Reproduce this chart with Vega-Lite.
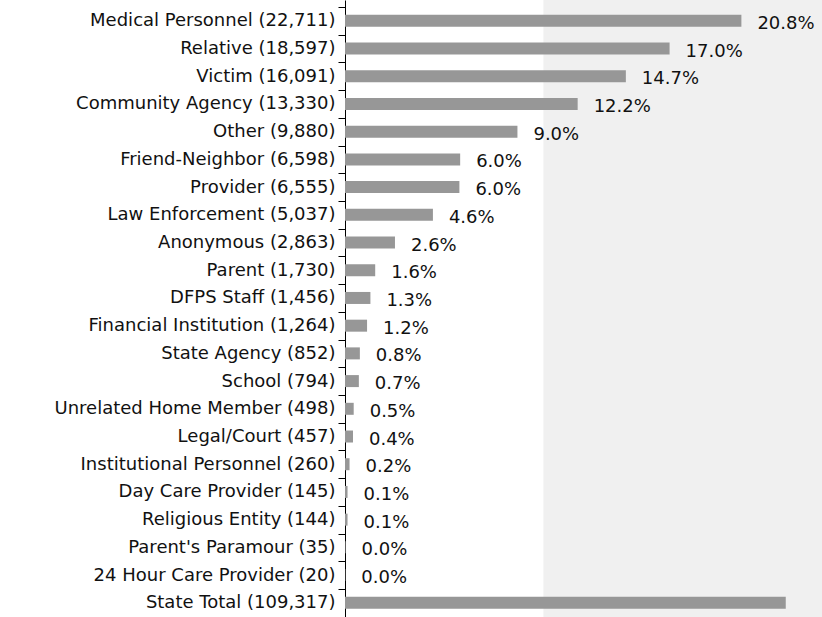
{
  "$schema": "https://vega.github.io/schema/vega-lite/v6.json",
  "width": 477,
  "height": 617,
  "autosize": {"type": "none"},
  "padding": {"left": 345, "top": 0, "right": 0, "bottom": 0},
  "background": "white",
  "config": {
    "view": {"stroke": null},
    "font": "DejaVu Sans",
    "axis": {
      "title": null,
      "domainColor": "#000000",
      "tickColor": "#000000",
      "labelColor": "#111111",
      "labelFont": "DejaVu Sans",
      "labelFontSize": 18,
      "labelLimit": 500,
      "tickSize": 7,
      "tickWidth": 1,
      "labelPadding": 3
    }
  },
  "data": {
    "values": [
      {"label": "Medical Personnel (22,711)", "value": 20.775, "pctText": "20.8%"},
      {"label": "Relative (18,597)", "value": 17.012, "pctText": "17.0%"},
      {"label": "Victim (16,091)", "value": 14.720, "pctText": "14.7%"},
      {"label": "Community Agency (13,330)", "value": 12.194, "pctText": "12.2%"},
      {"label": "Other (9,880)", "value": 9.038, "pctText": "9.0%"},
      {"label": "Friend-Neighbor (6,598)", "value": 6.036, "pctText": "6.0%"},
      {"label": "Provider (6,555)", "value": 5.996, "pctText": "6.0%"},
      {"label": "Law Enforcement (5,037)", "value": 4.608, "pctText": "4.6%"},
      {"label": "Anonymous (2,863)", "value": 2.619, "pctText": "2.6%"},
      {"label": "Parent (1,730)", "value": 1.583, "pctText": "1.6%"},
      {"label": "DFPS Staff (1,456)", "value": 1.332, "pctText": "1.3%"},
      {"label": "Financial Institution (1,264)", "value": 1.156, "pctText": "1.2%"},
      {"label": "State Agency (852)", "value": 0.779, "pctText": "0.8%"},
      {"label": "School (794)", "value": 0.726, "pctText": "0.7%"},
      {"label": "Unrelated Home Member (498)", "value": 0.456, "pctText": "0.5%"},
      {"label": "Legal/Court (457)", "value": 0.418, "pctText": "0.4%"},
      {"label": "Institutional Personnel (260)", "value": 0.238, "pctText": "0.2%"},
      {"label": "Day Care Provider (145)", "value": 0.133, "pctText": "0.1%"},
      {"label": "Religious Entity (144)", "value": 0.132, "pctText": "0.1%"},
      {"label": "Parent's Paramour (35)", "value": 0.032, "pctText": "0.0%"},
      {"label": "24 Hour Care Provider (20)", "value": 0.018, "pctText": "0.0%"},
      {"label": "State Total (109,317)", "value": 23.1, "pctText": null}
    ]
  },
  "layer": [
    {
      "data": {"values": [{}]},
      "mark": {"type": "rect", "color": "#f0f0f0"},
      "encoding": {
        "x": {"datum": 10.4, "type": "quantitative", "scale": {"domain": [0, 25], "nice": false}, "axis": null},
        "x2": {"datum": 25}
      }
    },
    {
      "mark": {"type": "bar", "color": "#979797", "size": 12},
      "encoding": {
        "y": {
          "field": "label",
          "type": "nominal",
          "sort": null,
          "scale": {"paddingInner": 0, "paddingOuter": 0.133, "align": 0.95},
          "axis": {"tickBand": "extent", "ticks": true, "domain": true}
        },
        "x": {"field": "value", "type": "quantitative", "scale": {"domain": [0, 25], "nice": false}, "axis": null}
      }
    },
    {
      "transform": [{"filter": "datum.pctText != null"}],
      "mark": {"type": "text", "align": "left", "baseline": "middle", "dx": 16, "dy": 3, "fontSize": 18, "color": "#111111", "font": "DejaVu Sans"},
      "encoding": {
        "y": {"field": "label", "type": "nominal", "sort": null},
        "x": {"field": "value", "type": "quantitative"},
        "text": {"field": "pctText"}
      }
    }
  ]
}
